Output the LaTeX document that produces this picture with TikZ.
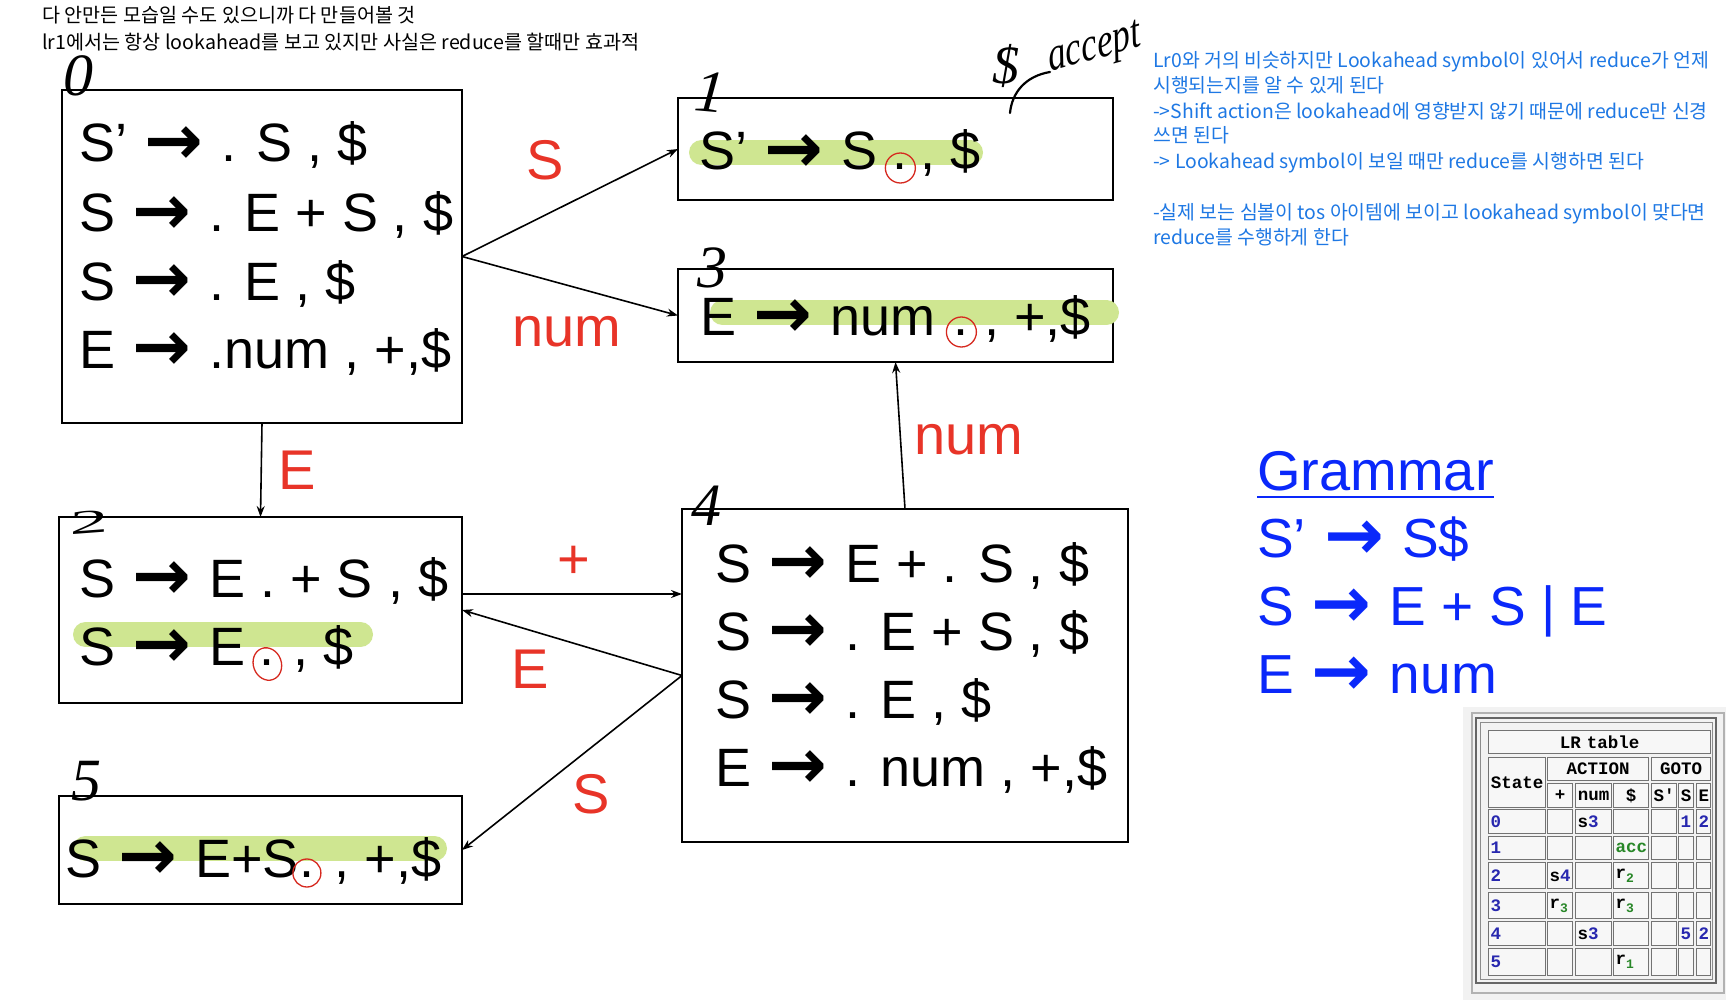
\documentclass[tikz,border=0pt]{standalone}
\usepackage{graphicx}
\usepackage{fontspec}
\setmainfont{Liberation Sans}
\newfontfamily\kr{Noto Sans CJK KR}
\newfontfamily\mono{Liberation Mono}
\newfontfamily\handf{Liberation Serif}
\newfontfamily\arrf{DejaVu Sans}
\usetikzlibrary{arrows.meta,calc}
\definecolor{lblred}{RGB}{232,52,40}
\definecolor{hlgreen}{RGB}{207,230,145}
\definecolor{circred}{RGB}{214,40,30}
\definecolor{noteblue}{RGB}{30,120,228}
\definecolor{grammarblue}{RGB}{10,40,250}
\definecolor{tblue}{RGB}{40,40,175}
\definecolor{tgreen}{RGB}{40,135,40}
\newcommand\ra{\hspace{0.05em}\raisebox{-0.04em}{\scalebox{1.3}{\arrf\bfseries →}}\hspace{0.05em}}
\newcommand\tsh[1]{s\textcolor{tblue}{#1}}
\newcommand\trd[1]{r\raisebox{-4pt}{\fontsize{13}{13}\selectfont\textcolor{tgreen}{#1}}}
\newcommand\tbl[1]{\textcolor{tblue}{#1}}
\newcommand\tcell[7]{%
  \pgfmathsetmacro\cw{#4-#2}\pgfmathsetmacro\ch{#5-#3}\pgfmathsetmacro\tw{#4-#2-4}%
  \node[cell, minimum width=\cw pt, minimum height=\ch pt, text width=\tw pt, align=#6, anchor=north west] (#1) at (#2,#3) {#7};}
\newcommand\trow[9]{%
  \tcell{r#3a}{1488}{#1}{1545}{#2}{left}{\tbl{#3}}%
  \tcell{r#3b}{1547}{#1}{1572}{#2}{left}{#4}%
  \tcell{r#3c}{1575}{#1}{1611}{#2}{left}{#5}%
  \tcell{r#3d}{1613}{#1}{1648}{#2}{left}{#6}%
  \tcell{r#3e}{1651}{#1}{1676}{#2}{left}{#7}%
  \tcell{r#3f}{1678}{#1}{1693}{#2}{left}{#8}%
  \tcell{r#3g}{1696}{#1}{1710}{#2}{left}{#9}}
\begin{document}
\begin{tikzpicture}[x=1pt,y=-1pt,
  box/.style={draw, line width=2.5pt, inner sep=0pt, outer sep=0pt},
  item/.style={anchor=base west, inner sep=0pt, font=\fontsize{54}{60}\selectfont},
  hl/.style={draw=hlgreen, line width=25pt, line cap=round},
  dotc/.style={draw=circred, line width=1.3pt},
  conn/.style={-{Stealth[length=11pt,width=8pt]}, line width=1.6pt},
  lbl/.style={text=lblred, inner sep=0pt, font=\fontsize{56}{60}\selectfont},
  hand/.style={inner sep=0pt, font=\handf\itshape\fontsize{60}{60}\selectfont},
  note/.style={anchor=base west, inner sep=0pt, text=noteblue, font=\kr\fontsize{19.4}{19.4}\selectfont},
  topnote/.style={anchor=base west, inner sep=0pt, font=\kr\fontsize{19.6}{19.6}\selectfont},
  gram/.style={anchor=base west, inner sep=0pt, text=grammarblue, font=\fontsize{55}{60}\selectfont},
  cell/.style={draw=black!55, line width=1.2pt, fill=gray!6, inner xsep=2pt, inner ysep=0pt,
    font=\mono\bfseries\fontsize{17.5}{17.5}\selectfont}]
\useasboundingbox (0,0) rectangle (1726,1000);
\fill[white] (0,0) rectangle (1726,1000);

% top notes
\node[topnote] (n1) at (42,22.5) {다 안만든 모습일 수도 있으니까 다 만들어볼 것};
\node[topnote] (n2) at (42,50) {lr1에서는 항상 lookahead를 보고 있지만 사실은 reduce를 할때만 효과적};

% boxes
\node[box, minimum width=400pt, minimum height=333pt] (b0) at (262,256.5) {};
\node[box, minimum width=435pt, minimum height=102pt] (b1) at (895.5,149) {};
\node[box, minimum width=435pt, minimum height=93pt] (b3) at (895.5,315.5) {};
\node[box, minimum width=403pt, minimum height=186pt] (b2) at (260.5,610) {};
\node[box, minimum width=403pt, minimum height=108pt] (b5) at (260.5,850) {};
\node[box, minimum width=446pt, minimum height=333pt] (b4) at (905,675.5) {};

% highlights
\draw[hl] (701.5,152.5) -- (970.5,152.5);
\draw[hl] (722.5,312.5) -- (1106.5,312.5);
\draw[hl] (85.5,634.5) -- (360.5,634.5);
\draw[hl] (85.5,848.5) -- (434.5,848.5);

% box 0
\node[item] (t01) at (79,162) {S’ \ra{} . S , \$};
\node[item] (t02) at (79,232) {S \ra{} . E + S , \$};
\node[item] (t03) at (79,300) {S \ra{} . E , \$};
\node[item] (t04) at (79,368) {E \ra{} .num , +,\$};

% box 1
\node[item] (t11) at (699,170) {S’ \ra{} S};
\node[item] (d1) at ([xshift=15pt]t11.base east) {.};
\node[item] (t12) at ([xshift=12pt]d1.base east) {, \$};
\coordinate (c1) at (d1.center |- d1.base);
\draw[dotc] ([yshift=2pt]c1) circle[radius=15pt];

% box 3
\node[item] (t31) at (700,335) {E \ra{} num};
\node[item] (d3) at ([xshift=18pt]t31.base east) {.};
\node[item] (t32) at ([xshift=15pt]d3.base east) {, +,\$};
\coordinate (c3) at (d3.center |- d3.base);
\draw[dotc] ([yshift=3pt]c3) circle[radius=15pt];

% box 2
\node[item] (t21) at (79,597) {S \ra{} E . + S , \$};
\node[item] (t22) at (79,665) {S \ra{} E};
\node[item] (d2) at ([xshift=14pt]t22.base east) {.};
\node[item] (t23) at ([xshift=18pt]d2.base east) {, \$};
\coordinate (c2) at (d2.center |- d2.base);
\draw[dotc] ([yshift=1pt]c2) circle[x radius=14pt, y radius=16.5pt, rotate=20];

% box 5
\node[item] (t51) at (65,877) {S \ra{} E+S};
\node[item] (d5) at ([xshift=0pt]t51.base east) {.};
\node[item] (t52) at ([xshift=20pt]d5.base east) {, +,\$};
\coordinate (c5) at (d5.center |- d5.base);
\draw[dotc] ([yshift=4pt]c5) circle[radius=14pt];

% box 4
\node[item] (t41) at (715,582) {S \ra{} E + . S , \$};
\node[item] (t42) at (715,650) {S \ra{} . E + S , \$};
\node[item] (t43) at (715,718) {S \ra{} . E , \$};
\node[item] (t44) at (715,786) {E \ra{} . num , +,\$};

% handwritten state numbers
\node[hand] (h0) at (78,76) {0};
\node[hand, rotate=-5] (h1) at (710,92) {1};
\node[hand, yscale=0.55, xscale=1.3, rotate=10] (h2) at (88,522) {2};
\node[hand] (h3) at (712,268) {3};
\node[hand] (h4) at (706,506) {4};
\node[hand] (h5) at (86,781) {5};

% $ -> accept
\node[hand, font=\handf\itshape\fontsize{54}{54}\selectfont] (hd) at (1006,66) {\$};
\node[hand, font=\handf\itshape\fontsize{48}{48}\selectfont, xscale=0.75, rotate=12, anchor=base west] (acc) at (1050,72) {accept};
\coordinate (accs) at (1010,113);
\draw[line width=2.2pt, line cap=round] (accs) .. controls (1012,92) and (1026,76) .. (acc.base west);

% connectors
\draw[conn] (b0.east) -- (b1.west);
\draw[conn] (b0.east) -- (b3.west);
\draw[conn] (b0.south) -- (b2.north);
\coordinate (p24) at ([yshift=16pt]b2.east);
\draw[conn] (p24) -- (p24 -| b4.west);
\draw[conn] (b4.west) -- (b2.east);
\draw[conn] (b4.west) -- (b5.east);
\draw[conn] (b4.north) -- (b3.south);

% edge labels
\node[lbl] (l01) at (545,160) {S};
\node[lbl] (l03) at (567,332) {num};
\node[lbl] (l02) at (297,470) {E};
\node[lbl] (l24) at (574,562) {+};
\node[lbl] (l42) at (530,669) {E};
\node[lbl] (l45) at (591,794) {S};
\node[lbl] (l43) at (969,440) {num};

% blue notes
\node[note] (m1) at (1153,68) {Lr0와 거의 비슷하지만 Lookahead symbol이 있어서 reduce가 언제};
\node[note] (m2) at (1153,92.5) {시행되는지를 알 수 있게 된다};
\node[note] (m3) at (1153,118.5) {->Shift action은 lookahead에 영향받지 않기 때문에 reduce만 신경};
\node[note] (m4) at (1153,143) {쓰면 된다};
\node[note] (m5) at (1153,169) {-> Lookahead symbol이 보일 때만 reduce를 시행하면 된다};
\node[note] (m6) at (1153,220) {-실제 보는 심볼이 tos 아이템에 보이고 lookahead symbol이 맞다면};
\node[note] (m7) at (1153,245) {reduce를 수행하게 한다};

% grammar
\node[gram, font=\fontsize{56}{60}\selectfont] (g0) at (1257,490) {Grammar};
\draw[grammarblue, line width=2.6pt] ([yshift=-7pt]g0.base west) -- ([yshift=-7pt]g0.base east);
\node[gram] (g1) at (1257,557) {S’ \ra{} S\$};
\node[gram] (g2) at (1257,625) {S \ra{} E + S | E};
\node[gram] (g3) at (1257,693) {E \ra{} num};

% LR table
\fill[gray!10] (1463,707) rectangle (1726,1000);
\draw[gray!60, line width=1.5pt] (1472,713) rectangle (1724,993);
\draw[black!60, line width=1.2pt] (1476,718) rectangle (1716,983);
\draw[black!45, line width=1pt] (1480,722) rectangle (1712,979);
\tcell{ttl}{1488}{730}{1710}{753}{center}{LR table}
\tcell{tst}{1488}{757}{1545}{807}{center}{State}
\tcell{tac}{1547}{757}{1648}{780}{center}{ACTION}
\tcell{tgo}{1651}{757}{1710}{780}{center}{GOTO}
\tcell{hp}{1547}{783}{1572}{807}{center}{+}
\tcell{hn}{1575}{783}{1611}{807}{center}{num}
\tcell{hdl}{1613}{783}{1648}{807}{center}{\$}
\tcell{hsp}{1651}{783}{1676}{807}{center}{S'}
\tcell{hs}{1678}{783}{1693}{807}{center}{S}
\tcell{he}{1696}{783}{1710}{807}{center}{E}
\trow{809}{833}{0}{}{\tsh{3}}{}{}{\tbl{1}}{\tbl{2}}
\trow{836}{859}{1}{}{}{\textcolor{tgreen}{acc}}{}{}{}
\trow{862}{888}{2}{\tsh{4}}{}{\trd{2}}{}{}{}
\trow{892}{918}{3}{\trd{3}}{}{\trd{3}}{}{}{}
\trow{921}{945}{4}{}{\tsh{3}}{}{}{\tbl{5}}{\tbl{2}}
\trow{948}{975}{5}{}{}{\trd{1}}{}{}{}
\end{tikzpicture}
\end{document}
